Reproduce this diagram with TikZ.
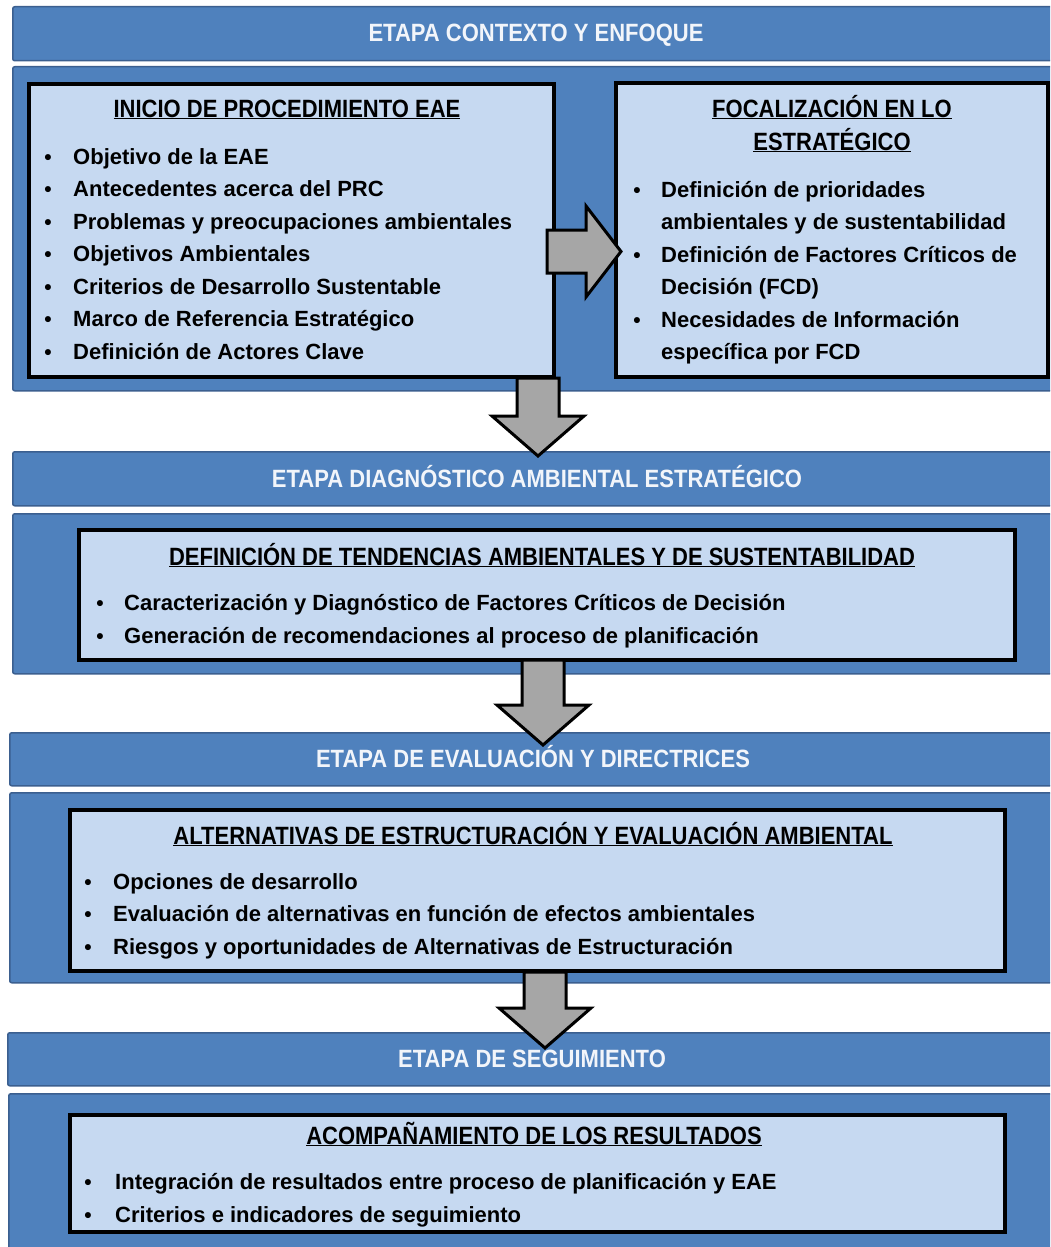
\documentclass[tikz,border=0pt]{standalone}
\usepackage{fontspec}
\setmainfont{Liberation Sans}
\newfontfamily\narrowfont[FakeStretch=0.88]{Liberation Sans}
\usetikzlibrary{calc}

\definecolor{etapablue}{HTML}{4F81BD}
\definecolor{etapaedge}{HTML}{3B5F8F}
\definecolor{boxfill}{HTML}{C6D9F1}
\definecolor{arrowgray}{HTML}{A6A6A6}
\definecolor{headtext}{HTML}{F2F5FA}

\tikzset{
  bar/.style={fill=etapablue, draw=etapaedge, line width=1.5pt, rounded corners=2pt,
    anchor=north west, inner sep=0pt},
  innerbox/.style={fill=boxfill, draw=black, line width=4pt, anchor=north west, inner sep=0pt},
  headtitle/.style={anchor=base, text=headtext, inner sep=0pt,
    font=\narrowfont\bfseries\fontsize{25}{30}\selectfont},
  boxtitle/.style={anchor=base, inner sep=0pt,
    font=\narrowfont\bfseries\fontsize{25}{30}\selectfont},
  item/.style={anchor=base west, inner sep=0pt, font=\bfseries\fontsize{22}{27}\selectfont},
  dot/.style={anchor=base, inner sep=0pt, font=\bfseries\fontsize{21}{27}\selectfont},
  arrowbody/.style={fill=arrowgray, draw=black, line width=3pt, line join=miter},
  blockdown/.style={arrowbody, to path={let \p1=(\tikztostart), \p2=(\tikztotarget) in
    (\x1-21,\y1) -- (\x1+21,\y1) -- (\x1+21,\y2+40) -- (\x1+46,\y2+40) -- (\x2,\y2)
    -- (\x1-46,\y2+40) -- (\x1-21,\y2+40) -- cycle}},
  blockright/.style={arrowbody, to path={let \p1=(\tikztostart), \p2=(\tikztotarget) in
    (\x1,\y1+21.5) -- (\x2-35,\y1+21.5) -- (\x2-35,\y1+45.5) -- (\x2,\y2)
    -- (\x2-35,\y1-45.5) -- (\x2-35,\y1-21.5) -- (\x1,\y1-21.5) -- cycle}}
}

\begin{document}
\begin{tikzpicture}[x=1pt, y=-1pt]
\useasboundingbox (0,0) rectangle (1050,1247);
\clip (0,0) rectangle (1050,1247);
\fill[white] (0,0) rectangle (1050,1247);

% stage bars and panels
\node[bar, minimum width=1048, minimum height=54] (etapa1) at (12,6) {};
\node[bar, minimum width=1048, minimum height=324] (panel1) at (12,66) {};
\node[bar, minimum width=1048, minimum height=54] (etapa2) at (12,451) {};
\node[bar, minimum width=1048, minimum height=160] (panel2) at (12,513) {};
\node[bar, minimum width=1051, minimum height=53] (etapa3) at (9,732) {};
\node[bar, minimum width=1051, minimum height=190] (panel3) at (9,792) {};
\node[bar, minimum width=1053, minimum height=53] (etapa4) at (7,1032) {};
\node[bar, minimum width=1052, minimum height=170] (panel4) at (8,1093) {};

\node[headtitle] (etapa1t) at (536,42) {ETAPA CONTEXTO Y ENFOQUE};
\node[headtitle] (etapa2t) at (537,487) {ETAPA DIAGNÓSTICO AMBIENTAL ESTRATÉGICO};
\node[headtitle] (etapa3t) at (533,767) {ETAPA DE EVALUACIÓN Y DIRECTRICES};
\node[headtitle] (etapa4t) at (532,1067) {ETAPA DE SEGUIMIENTO};

% inner boxes
\node[innerbox, minimum width=525, minimum height=293] (inicio) at (27,82) {};
\node[innerbox, minimum width=432, minimum height=294] (foco) at (614,81) {};
\node[innerbox, minimum width=936, minimum height=130] (tendencias) at (77,528) {};
\node[innerbox, minimum width=935, minimum height=161] (alternativas) at (68,808) {};
\node[innerbox, minimum width=935, minimum height=117] (acomp) at (68,1113) {};

% inicio de procedimiento
\node[boxtitle] (iniciot) at (287,117) {\underline{INICIO DE PROCEDIMIENTO EAE}};
\foreach \t [count=\i] in {Objetivo de la EAE, Antecedentes acerca del PRC,
    Problemas y preocupaciones ambientales, Objetivos Ambientales,
    Criterios de Desarrollo Sustentable, Marco de Referencia Estratégico,
    Definición de Actores Clave} {
  \node[dot] (iniciob\i) at (48,{164+32.5*(\i-1)}) {•};
  \node[item] (inicio\i) at (73,{164+32.5*(\i-1)}) {\t};
}

% focalizacion
\node[boxtitle] (focot1) at (832,117) {\underline{FOCALIZACIÓN EN LO}};
\node[boxtitle] (focot2) at (832,150) {\underline{ESTRATÉGICO}};
\foreach \b/\t [count=\i] in {1/Definición de prioridades, 0/ambientales y de sustentabilidad,
    1/Definición de Factores Críticos de, 0/Decisión (FCD),
    1/Necesidades de Información, 0/específica por FCD} {
  \ifnum\b=1 \node[dot] (focob\i) at (637,{197+32.5*(\i-1)}) {•}; \fi
  \node[item] (foco\i) at (661,{197+32.5*(\i-1)}) {\t};
}

% tendencias
\node[boxtitle] (tendenciast) at (542,565)
  {\underline{DEFINICIÓN DE TENDENCIAS AMBIENTALES Y DE SUSTENTABILIDAD}};
\foreach \t [count=\i] in {Caracterización y Diagnóstico de Factores Críticos de Decisión,
    Generación de recomendaciones al proceso de planificación} {
  \node[dot] (tendenciasb\i) at (100,{610+33*(\i-1)}) {•};
  \node[item] (tendencias\i) at (124,{610+33*(\i-1)}) {\t};
}

% alternativas
\node[boxtitle] (alternativast) at (533,844)
  {\underline{ALTERNATIVAS DE ESTRUCTURACIÓN Y EVALUACIÓN AMBIENTAL}};
\foreach \t [count=\i] in {Opciones de desarrollo,
    Evaluación de alternativas en función de efectos ambientales,
    Riesgos y oportunidades de Alternativas de Estructuración} {
  \node[dot] (alternativasb\i) at (88,{889+32.5*(\i-1)}) {•};
  \node[item] (alternativas\i) at (113,{889+32.5*(\i-1)}) {\t};
}

% acompanamiento
\node[boxtitle] (acompt) at (534,1144) {\underline{ACOMPAÑAMIENTO DE LOS RESULTADOS}};
\foreach \t [count=\i] in {Integración de resultados entre proceso de planificación y EAE,
    Criterios e indicadores de seguimiento} {
  \node[dot] (acompb\i) at (88,{1189+33*(\i-1)}) {•};
  \node[item] (acomp\i) at (115,{1189+33*(\i-1)}) {\t};
}

% block arrows
\coordinate (r1) at (547,251.5);
\coordinate (r2) at (621,251.5);
\coordinate (d1a) at (538,378);
\coordinate (d1b) at (538,456);
\coordinate (d2a) at (543,660);
\coordinate (d2b) at (543,745);
\coordinate (d3a) at (545,972);
\coordinate (d3b) at (545,1048);
\draw[blockright] (r1) to (r2);
\draw[blockdown] (d1a) to (d1b);
\draw[blockdown] (d2a) to (d2b);
\draw[blockdown] (d3a) to (d3b);
\end{tikzpicture}
\end{document}
